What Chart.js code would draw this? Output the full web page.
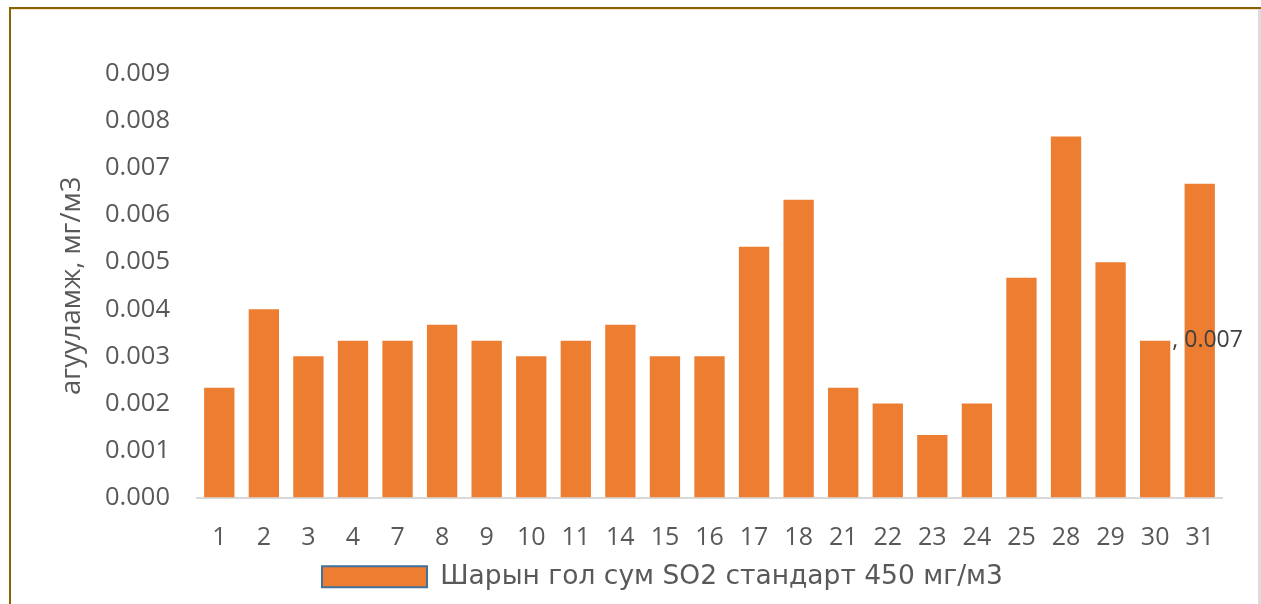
<!DOCTYPE html>
<html>
<head>
<meta charset="utf-8">
<script src="https://cdn.jsdelivr.net/npm/chart.js@4.4.1/dist/chart.umd.min.js"></script>
<style>
  html, body { margin: 0; padding: 0; background: #ffffff; }
  #wrap { position: relative; width: 1261px; height: 604px; overflow: hidden; background: #fff; }
  #c { position: absolute; left: 0; top: 0; }
  .frameTop { position: absolute; left: 9px; top: 7px; width: 1252px; height: 2px; background: #8a6404; }
  .frameTop2 { position: absolute; left: 11px; top: 9px; width: 1250px; height: 1px; background: #f3e6c4; }
  .frameLeft { position: absolute; left: 9px; top: 7px; width: 2px; height: 597px; background: #8a6404; }
  .frameRight { position: absolute; left: 1258px; top: 9px; width: 3px; height: 595px; background: #dcdcdc; }
</style>
</head>
<body>
<div id="wrap">
  <canvas id="c" width="1261" height="604"></canvas>
  <div class="frameTop"></div>
  <div class="frameTop2"></div>
  <div class="frameLeft"></div>
  <div class="frameRight"></div>
</div>
<script>
const categories = ['1','2','3','4','7','8','9','10','11','14','15','16','17','18','21','22','23','24','25','28','29','30','31'];
const so2Values = [0.00233,0.00400,0.00300,0.00333,0.00333,0.00367,0.00333,0.00300,0.00333,0.00367,0.00300,0.00300,0.00533,0.00633,0.00233,0.00200,0.00133,0.00200,0.00467,0.00767,0.00500,0.00333,0.00667];
const seriesName = 'Шарын гол сум SO2 стандарт 450 мг/м3';
const yTitle = 'агууламж, мг/м3';
const yTicks = [0.000,0.001,0.002,0.003,0.004,0.005,0.006,0.007,0.008,0.009];
const extraLabelCategory = '30';
const extraLabelText = ', 0.007';

const FONT = "'Open Sans', 'DejaVu Sans', sans-serif";
const LEGEND_FONT = "'DejaVu Sans', 'Open Sans', sans-serif";
const TXT = '#595959';

const extraLabelPlugin = {
  id: 'extraLabel',
  afterDatasetsDraw(chart) {
    const meta = chart.getDatasetMeta(0);
    const idx = categories.indexOf(extraLabelCategory);
    const el = meta.data[idx];
    if (!el) return;
    const ctx = chart.ctx;
    ctx.save();
    ctx.font = '23px ' + FONT;
    ctx.fillStyle = '#404040';
    ctx.textAlign = 'left';
    ctx.textBaseline = 'middle';
    ctx.fillText(extraLabelText, el.x + el.width / 2 + 2, el.y);
    ctx.restore();
  }
};

const legendShift = {
  id: 'legendShift',
  afterLayout(chart) {
    if (chart.legend) {
      chart.legend.left = 312;
    }
  }
};

new Chart(document.getElementById('c'), {
  type: 'bar',
  data: {
    labels: categories,
    datasets: [{
      label: seriesName,
      data: so2Values,
      backgroundColor: '#ed7d31',
      borderWidth: 0,
      categoryPercentage: 0.68,
      barPercentage: 1.0
    }]
  },
  options: {
    responsive: false,
    animation: false,
    layout: { padding: { top: 74, right: 39, left: 0, bottom: 4 } },
    plugins: {
      legend: {
        position: 'bottom',
        align: 'start',
        labels: {
          font: { family: LEGEND_FONT, size: 26.5 },
          color: TXT,
          boxWidth: 105,
          boxHeight: 21,
          padding: 10,
          generateLabels(chart) {
            const ds = chart.data.datasets[0];
            return [{
              text: ds.label,
              fillStyle: ds.backgroundColor,
              strokeStyle: '#41719c',
              lineWidth: 2,
              fontColor: TXT,
              hidden: false,
              datasetIndex: 0
            }];
          }
        }
      },
      tooltip: { enabled: false }
    },
    scales: {
      x: {
        grid: { display: false },
        border: { display: true, color: '#d9d9d9', width: 2 },
        afterFit(scale) { scale.height = 56; },
        ticks: { font: { family: FONT, size: 25 }, color: TXT, padding: 17, maxRotation: 0, autoSkip: false }
      },
      y: {
        min: 0,
        max: 0.009,
        afterBuildTicks(scale) { scale.ticks = yTicks.map(v => ({ value: v })); },
        afterFit(scale) { scale.width = 197; },
        grid: { display: false },
        border: { display: false },
        ticks: {
          font: { family: FONT, size: 25.5 },
          color: TXT,
          padding: 19,
          callback: (v) => Number(v).toFixed(3)
        },
        title: {
          display: true,
          text: yTitle,
          font: { family: FONT, size: 27.5 },
          color: TXT,
          padding: { top: 56, bottom: 0 }
        }
      }
    }
  },
  plugins: [extraLabelPlugin, legendShift]
});
</script>
</body>
</html>
